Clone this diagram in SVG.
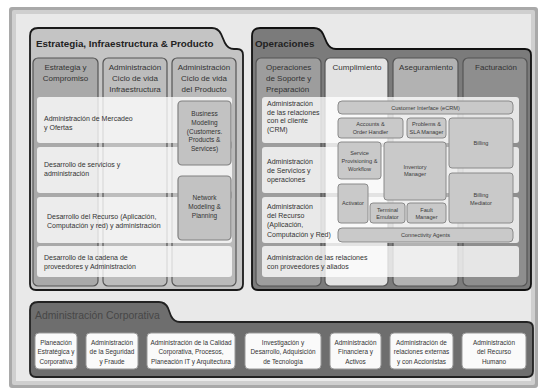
<svg xmlns="http://www.w3.org/2000/svg" width="542" height="391" viewBox="0 0 542 391">
<style>
text{font-family:"Liberation Sans",Arial,sans-serif;fill:#333}
.title{font-size:9.8px;font-weight:bold;fill:#222}
.hdr{font-size:8px;text-anchor:middle}
.hdrl{font-size:8px}
.row{font-size:7px}
.app{font-size:5.6px;text-anchor:middle;fill:#3a3a3a}
.mod{font-size:6.5px;text-anchor:middle}
.corp{font-size:6.4px;text-anchor:middle}
.col{stroke:#555;stroke-width:1.2}
.band{fill:#fff;opacity:0.78}
.appbox{fill:#c9c9c9;stroke:#8a8a8a;stroke-width:1}
.cbox{fill:#fafafa;stroke:#999;stroke-width:1}
</style>
<rect x="0" y="0" width="542" height="391" fill="#fff"/>
<g id="frame">
<rect x="9" y="7" width="529" height="381" rx="3" fill="#a9a9a9"/>
<rect x="12" y="10" width="523" height="375" rx="2" fill="#cfcfcf"/>
<rect x="16" y="14" width="515" height="367" fill="#e9e9e9"/>
</g>
<g id="estrategia">
<path d="M30,36 Q30,28 38,28 L212,28 Q218,28 221,34 L225,43 Q228,49 234,49 L237,49 Q243,49 243,55 L243,284 Q243,290 237,290 L36,290 Q30,290 30,284 Z" fill="#c4c4c4" stroke="#1a1a1a" stroke-width="1.8"/>
<text class="title" x="36" y="47">Estrategia, Infraestructura &amp; Producto</text>
<rect class="col" x="33" y="58" width="65" height="228" rx="5" fill="#a9a9a9"/>
<rect class="col" x="103" y="58" width="64" height="228" rx="5" fill="#bdbdbd"/>
<rect class="col" x="172" y="58" width="64" height="228" rx="5" fill="#bababa"/>
<text class="hdr" x="65.5" y="70">Estrategia y</text>
<text class="hdr" x="65.5" y="81">Compromiso</text>
<text class="hdr" x="135" y="70">Administración</text>
<text class="hdr" x="135" y="81">Ciclo de vida</text>
<text class="hdr" x="135" y="92">Infraestructura</text>
<text class="hdr" x="204" y="70">Administración</text>
<text class="hdr" x="204" y="81">Ciclo de vida</text>
<text class="hdr" x="204" y="92">del Producto</text>
<rect class="band" x="37" y="97" width="195" height="46" rx="3"/>
<rect class="band" x="37" y="147" width="195" height="46" rx="3"/>
<rect class="band" x="37" y="197" width="195" height="46" rx="3"/>
<rect class="band" x="37" y="246" width="195" height="31" rx="3"/>
<text class="row" x="44" y="121">Administración de Mercadeo</text>
<text class="row" x="44" y="130">y Ofertas</text>
<text class="row" x="44" y="167">Desarrollo de servicios y</text>
<text class="row" x="44" y="176">administración</text>
<text class="row" x="47" y="219">Desarrollo del Recurso (Aplicación,</text>
<text class="row" x="47" y="228">Computación y red) y administración</text>
<text class="row" x="44" y="260">Desarrollo de la cadena de</text>
<text class="row" x="44" y="269">proveedores y Administración</text>
</g>
<g id="business-modeling">
<rect x="178" y="101" width="53" height="64" rx="4" fill="#c2c2c2" stroke="#808080" stroke-width="1.2"/>
<text class="mod" x="204.5" y="115.5">Business</text>
<text class="mod" x="204.5" y="124.5">Modeling</text>
<text class="mod" x="204.5" y="133.5">(Customers.</text>
<text class="mod" x="204.5" y="142">Products &amp;</text>
<text class="mod" x="204.5" y="150.5">Services)</text>
</g>
<g id="network-modeling">
<rect x="178" y="176" width="53" height="64" rx="4" fill="#c2c2c2" stroke="#808080" stroke-width="1.2"/>
<text class="mod" x="204.5" y="199.5">Network</text>
<text class="mod" x="204.5" y="209">Modeling &amp;</text>
<text class="mod" x="204.5" y="218">Planning</text>
</g>
<g id="operaciones">
<path d="M252,36 Q252,28 260,28 L314,28 Q320,28 323,34 L327,43 Q330,49 336,49 L525,49 Q531,49 531,55 L531,284 Q531,290 525,290 L258,290 Q252,290 252,284 Z" fill="#7b7b7b" stroke="#111" stroke-width="1.8"/>
<text class="title" x="255" y="47">Operaciones</text>
<rect class="col" x="256" y="58" width="65" height="228" rx="5" fill="#9d9d9d"/>
<rect class="col" x="325" y="58" width="63" height="228" rx="5" fill="#e3e3e3"/>
<rect class="col" x="393" y="58" width="65" height="228" rx="5" fill="#b2b2b2"/>
<rect class="col" x="463" y="58" width="64" height="228" rx="5" fill="#8e8e8e"/>
<text class="hdrl" x="266" y="70">Operaciones</text>
<text class="hdrl" x="266" y="81">de Soporte y</text>
<text class="hdrl" x="266" y="92">Preparación</text>
<text class="hdr" x="357" y="70">Cumplimiento</text>
<text class="hdr" x="426" y="70">Aseguramiento</text>
<text class="hdr" x="496" y="70">Facturación</text>
<rect class="band" x="262" y="97" width="257" height="46" rx="3"/>
<rect class="band" x="262" y="147" width="257" height="46" rx="3"/>
<rect class="band" x="262" y="197" width="257" height="46" rx="3"/>
<rect class="band" x="262" y="246" width="257" height="31" rx="3"/>
<text class="row" x="267" y="106">Administración</text>
<text class="row" x="267" y="114.5">de las relaciones</text>
<text class="row" x="267" y="123">con el cliente</text>
<text class="row" x="267" y="131.5">(CRM)</text>
<text class="row" x="267" y="163.5">Administración</text>
<text class="row" x="267" y="172.5">de Servicios y</text>
<text class="row" x="267" y="181.5">operaciones</text>
<text class="row" x="267" y="208.5">Administración</text>
<text class="row" x="267" y="218">del Recurso</text>
<text class="row" x="267" y="227">(Aplicación,</text>
<text class="row" x="267" y="236.5">Computación y Red)</text>
<text class="row" x="267" y="259.5">Administración de las relaciones</text>
<text class="row" x="267" y="269">con proveedores y aliados</text>
</g>
<g id="customer-interface"><rect class="appbox" x="338" y="101" width="175" height="13" rx="4"/><text class="app" x="425.5" y="109.5">Customer Interface (eCRM)</text></g>
<g id="accounts-order"><rect class="appbox" x="338" y="118" width="65" height="20" rx="3"/><text class="app" x="370.5" y="126">Accounts &amp;</text><text class="app" x="370.5" y="133.5">Order Handler</text></g>
<g id="problems-sla"><rect class="appbox" x="407" y="118" width="39" height="20" rx="3"/><text class="app" x="426.5" y="126">Problems &amp;</text><text class="app" x="426.5" y="133.5">SLA Manager</text></g>
<g id="billing"><rect class="appbox" x="449" y="118" width="64" height="50" rx="3"/><text class="app" x="481" y="145">Billing</text></g>
<g id="service-provisioning"><rect class="appbox" x="338" y="142" width="43" height="37" rx="3"/><text class="app" x="359.5" y="155">Service</text><text class="app" x="359.5" y="163">Provisioning &amp;</text><text class="app" x="359.5" y="171">Workflow</text></g>
<g id="inventory-manager"><rect class="appbox" x="384" y="142" width="62" height="58" rx="3"/><text class="app" x="415" y="169">Inventory</text><text class="app" x="415" y="176">Manager</text></g>
<g id="billing-mediator"><rect class="appbox" x="449" y="173" width="64" height="50" rx="3"/><text class="app" x="481" y="197">Billing</text><text class="app" x="481" y="205">Mediator</text></g>
<g id="activator"><rect class="appbox" x="338" y="184" width="30" height="39" rx="3"/><text class="app" x="353" y="205">Activator</text></g>
<g id="terminal-emulator"><rect class="appbox" x="370" y="203" width="35" height="20" rx="3"/><text class="app" x="387.5" y="212">Terminal</text><text class="app" x="387.5" y="219">Emulator</text></g>
<g id="fault-manager"><rect class="appbox" x="407" y="203" width="39" height="20" rx="3"/><text class="app" x="426.5" y="212">Fault</text><text class="app" x="426.5" y="219">Manager</text></g>
<g id="connectivity-agents"><rect class="appbox" x="338" y="228" width="175" height="14" rx="4"/><text class="app" x="425.5" y="237">Connectivity Agents</text></g>
<g id="corporativa">
<path d="M30,310 Q30,302 38,302 L159,302 Q165,302 168,308 L171,316 Q174,322 180,322 L527,322 Q533,322 533,328 L533,371 Q533,377 527,377 L36,377 Q30,377 30,371 Z" fill="#6e6e6e" stroke="#222" stroke-width="1.8"/>
<text x="35" y="319" style="font-size:10.4px;fill:#474747">Administración Corporativa</text>
</g>
<g id="planeacion"><rect class="cbox" x="35" y="333" width="42" height="36" rx="4"/><text class="corp" x="56" y="344.5">Planeación</text><text class="corp" x="56" y="354">Estratégica y</text><text class="corp" x="56" y="363.5">Corporativa</text></g>
<g id="seguridad"><rect class="cbox" x="86" y="333" width="52" height="36" rx="4"/><text class="corp" x="112" y="344.5">Administración</text><text class="corp" x="112" y="354">de la Seguridad</text><text class="corp" x="112" y="363.5">y Fraude</text></g>
<g id="calidad"><rect class="cbox" x="147" y="333" width="88" height="36" rx="4"/><text class="corp" x="191" y="344.5">Administración de la Calidad</text><text class="corp" x="191" y="354">Corporativa, Procesos,</text><text class="corp" x="191" y="363.5">Planeación IT y Arquitectura</text></g>
<g id="investigacion"><rect class="cbox" x="245" y="333" width="76" height="36" rx="4"/><text class="corp" x="283" y="344.5">Investigación y</text><text class="corp" x="283" y="354">Desarrollo, Adquisición</text><text class="corp" x="283" y="363.5">de Tecnología</text></g>
<g id="financiera"><rect class="cbox" x="330" y="333" width="51" height="36" rx="4"/><text class="corp" x="355.5" y="344.5">Administración</text><text class="corp" x="355.5" y="354">Financiera y</text><text class="corp" x="355.5" y="363.5">Activos</text></g>
<g id="relaciones-externas"><rect class="cbox" x="390" y="333" width="63" height="36" rx="4"/><text class="corp" x="421.5" y="344.5">Administración de</text><text class="corp" x="421.5" y="354">relaciones externas</text><text class="corp" x="421.5" y="363.5">y con Accionistas</text></g>
<g id="recurso-humano"><rect class="cbox" x="462" y="333" width="64" height="36" rx="4"/><text class="corp" x="494" y="344.5">Administración</text><text class="corp" x="494" y="354">del Recurso</text><text class="corp" x="494" y="363.5">Humano</text></g>
<g id="connectors"/>
</svg>
